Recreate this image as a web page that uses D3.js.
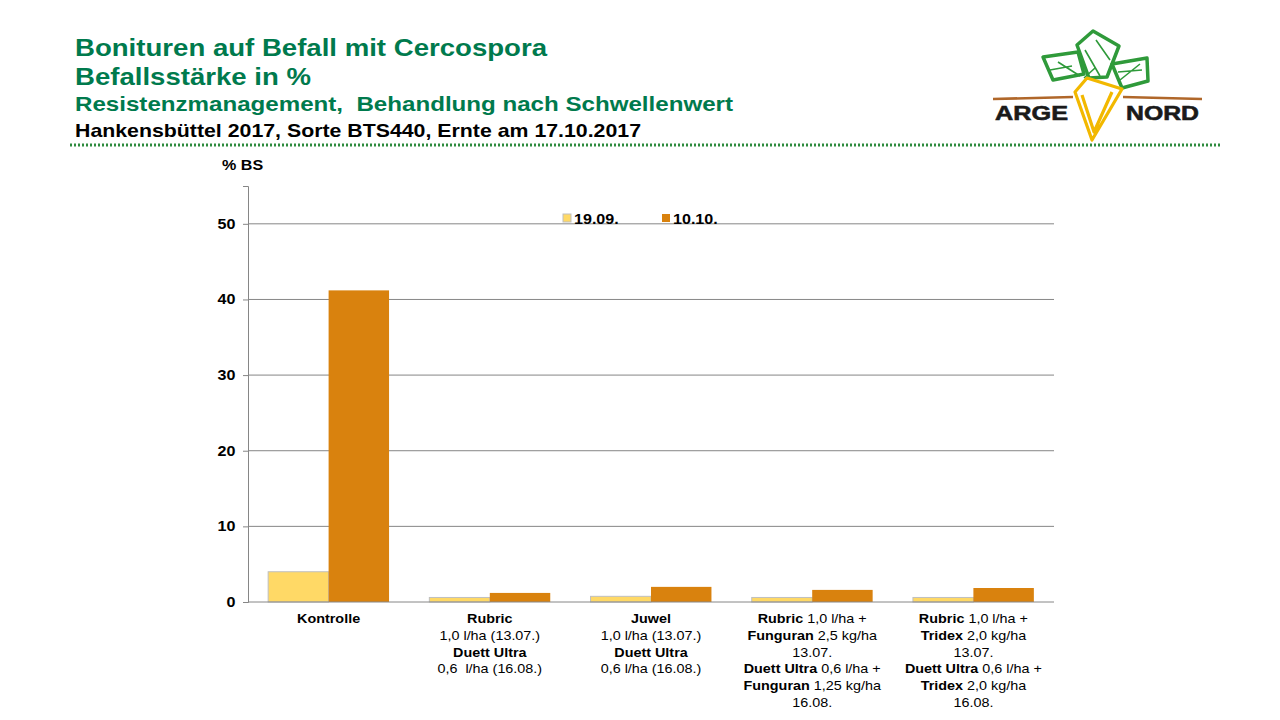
<!DOCTYPE html>
<html>
<head>
<meta charset="utf-8">
<script src="https://cdn.jsdelivr.net/npm/d3@7"></script>
<style>
  body { margin: 0; background: #fff; }
  svg { display: block; font-family: "Liberation Sans", Arial, sans-serif; }
</style>
</head>
<body>
<script>
// categories, each label line is a list of [text, bold] pieces
const categories = ["Kontrolle", "Rubric/Duett", "Juwel/Duett", "Rubric+Funguran", "Rubric+Tridex"];
const categoryLabels = [
  [[["Kontrolle", true]]],
  [[["Rubric", true]], [["1,0 l/ha (13.07.)", false]], [["Duett Ultra", true]], [["0,6  l/ha (16.08.)", false]]],
  [[["Juwel", true]], [["1,0 l/ha (13.07.)", false]], [["Duett Ultra", true]], [["0,6 l/ha (16.08.)", false]]],
  [[["Rubric", true], [" 1,0 l/ha +", false]], [["Funguran", true], [" 2,5 kg/ha", false]], [["13.07.", false]],
   [["Duett Ultra", true], [" 0,6 l/ha +", false]], [["Funguran", true], [" 1,25 kg/ha", false]], [["16.08.", false]]],
  [[["Rubric", true], [" 1,0 l/ha +", false]], [["Tridex", true], [" 2,0 kg/ha", false]], [["13.07.", false]],
   [["Duett Ultra", true], [" 0,6 l/ha +", false]], [["Tridex", true], [" 2,0 kg/ha", false]], [["16.08.", false]]]
];
const seriesNames = ["19.09.", "10.10."];
const values1909 = [4.0, 0.6, 0.75, 0.6, 0.6];
const values1010 = [41.2, 1.2, 2.0, 1.6, 1.85];
const yTicks = [0, 10, 20, 30, 40, 50];

const width = 1280, height = 720;
const green = "#007a4d";
const colors = ["#ffd966", "#d9820e"];
const sx = 1.15; // the slide text is a bit wider than plain Arial

const svg = d3.create("svg")
  .attr("width", width)
  .attr("height", height)
  .attr("viewBox", [0, 0, width, height]);

// header
const titles = [
  { t: "Bonituren auf Befall mit Cercospora", y: 56, size: 24, w: 472, fill: green },
  { t: "Befallsstärke in %", y: 85, size: 24, w: 236, fill: green },
  { t: "Resistenzmanagement,  Behandlung nach Schwellenwert", y: 111, size: 20.5, w: 658, fill: green },
  { t: "Hankensbüttel 2017, Sorte BTS440, Ernte am 17.10.2017", y: 137, size: 18.5, w: 566, fill: "#000" }
];
svg.append("g").selectAll("text").data(titles).join("text")
  .attr("x", 75).attr("y", d => d.y)
  .attr("font-size", d => d.size).attr("font-weight", "bold")
  .attr("fill", d => d.fill)
  .attr("xml:space", "preserve")
  .attr("textLength", d => d.w)
  .attr("lengthAdjust", "spacingAndGlyphs")
  .text(d => d.t);

svg.append("line")
  .attr("x1", 70).attr("x2", 1220).attr("y1", 145).attr("y2", 145)
  .attr("stroke", "#2e8b3e").attr("stroke-width", 3)
  .attr("stroke-dasharray", "2,2");

// logo (rough)
const logo = svg.append("g");
const leaves = [
  "M1043,57 L1078,52 L1084,74 L1053,80 Z",
  "M1077,45 L1093,31 L1119,46 L1107,77 L1089,78 Z",
  "M1112,64 L1147,58 L1148,81 L1122,88 Z"
];
logo.selectAll("path.leaf").data(leaves).join("path")
  .attr("d", d => d).attr("fill", "none")
  .attr("stroke", "#2f9a3a").attr("stroke-width", 3.5).attr("stroke-linejoin", "round");
logo.append("path")
  .attr("d", "M1058,62 L1080,76 M1050,70 L1072,66 M1085,50 L1100,76 M1096,40 L1110,60 M1118,72 L1142,70 M1120,80 L1140,64 M1084,78 L1095,68")
  .attr("stroke", "#2f9a3a").attr("stroke-width", 1.6).attr("fill", "none");
logo.append("path")
  .attr("d", "M993,99 L1073,97 M1123,97 L1202,99")
  .attr("stroke", "#b0672a").attr("stroke-width", 2.5).attr("fill", "none");
logo.append("path")
  .attr("d", "M1075,92 L1087,78 L1122,89 L1092,140 Z M1082,95 L1094,132 L1112,92")
  .attr("fill", "none").attr("stroke", "#f2b800").attr("stroke-width", 3.2).attr("stroke-linejoin", "round");
logo.selectAll("text.logo").data([["ARGE", 995], ["NORD", 1126]]).join("text")
  .attr("x", d => d[1]).attr("y", 120)
  .attr("font-size", 21).attr("font-weight", "bold")
  .attr("fill", "#1a1a1a").attr("stroke", "#1a1a1a").attr("stroke-width", 0.6)
  .attr("textLength", 73).attr("lengthAdjust", "spacingAndGlyphs")
  .text(d => d[0]);

// chart
const plotLeft = 248, plotRight = 1054, plotTop = 186, plotBottom = 602;

const x0 = d3.scaleBand().domain(categories).range([plotLeft, plotRight])
  .paddingInner(0.25).paddingOuter(0.125);
const x1 = d3.scaleBand().domain(seriesNames).range([0, x0.bandwidth()]);
const y = d3.scaleLinear().domain([0, 55]).range([plotBottom, plotTop]);

svg.append("g").selectAll("line").data(yTicks.filter(d => d > 0)).join("line")
  .attr("x1", plotLeft).attr("x2", plotRight)
  .attr("y1", d => y(d)).attr("y2", d => y(d))
  .attr("stroke", "#868686").attr("stroke-width", 1);

const yAxis = svg.append("g")
  .attr("transform", `translate(${plotLeft},0)`)
  .call(d3.axisLeft(y).tickValues(yTicks).tickSize(5).tickPadding(10));
yAxis.select(".domain").attr("stroke", "#868686");
yAxis.selectAll(".tick line").attr("stroke", "#868686");
yAxis.selectAll(".tick text")
  .attr("x", -11)
  .attr("transform", `scale(${sx},1)`)
  .attr("font-size", 14).attr("font-weight", "bold").attr("fill", "#000")
  .attr("font-family", "Liberation Sans, Arial, sans-serif");

svg.append("text")
  .attr("transform", `translate(222,170) scale(${sx},1)`)
  .attr("font-size", 14).attr("font-weight", "bold").text("% BS");

const series = [values1909, values1010];
const groups = svg.append("g").selectAll("g").data(categories).join("g")
  .attr("transform", d => `translate(${x0(d)},0)`);
groups.selectAll("rect")
  .data((d, i) => series.map((s, k) => ({ key: seriesNames[k], v: s[i], k })))
  .join("rect")
  .attr("x", d => x1(d.key))
  .attr("width", x1.bandwidth())
  .attr("y", d => y(d.v))
  .attr("height", d => y(0) - y(d.v))
  .attr("fill", d => colors[d.k])
  .attr("stroke", d => d.k === 0 ? "#bfbfbf" : "none");

svg.append("line")
  .attr("x1", plotLeft).attr("x2", plotRight).attr("y1", plotBottom).attr("y2", plotBottom)
  .attr("stroke", "#868686");

// category labels
const lab = svg.append("g").selectAll("text.cat")
  .data(categories.flatMap((c, i) => categoryLabels[i].map((line, j) => ({ c, line, j }))))
  .join("text")
  .attr("transform", d => `translate(${x0(d.c) + x0.bandwidth() / 2},${623 + d.j * 16.8}) scale(${sx},1)`)
  .attr("text-anchor", "middle")
  .attr("font-size", 12.5)
  .attr("xml:space", "preserve");
lab.selectAll("tspan").data(d => d.line).join("tspan")
  .attr("font-weight", d => d[1] ? "bold" : "normal")
  .text(d => d[0]);

// legend
const legend = svg.append("g").selectAll("g").data(seriesNames).join("g")
  .attr("transform", (d, i) => `translate(${563 + i * 99},214)`);
legend.append("rect").attr("width", 8).attr("height", 8)
  .attr("fill", (d, i) => colors[i])
  .attr("stroke", (d, i) => i === 0 ? "#bfbfbf" : "none");
legend.append("text")
  .attr("transform", `translate(11,10) scale(${sx},1)`)
  .attr("font-size", 14).attr("font-weight", "bold").text(d => d);

document.body.appendChild(svg.node());
</script>
</body>
</html>
